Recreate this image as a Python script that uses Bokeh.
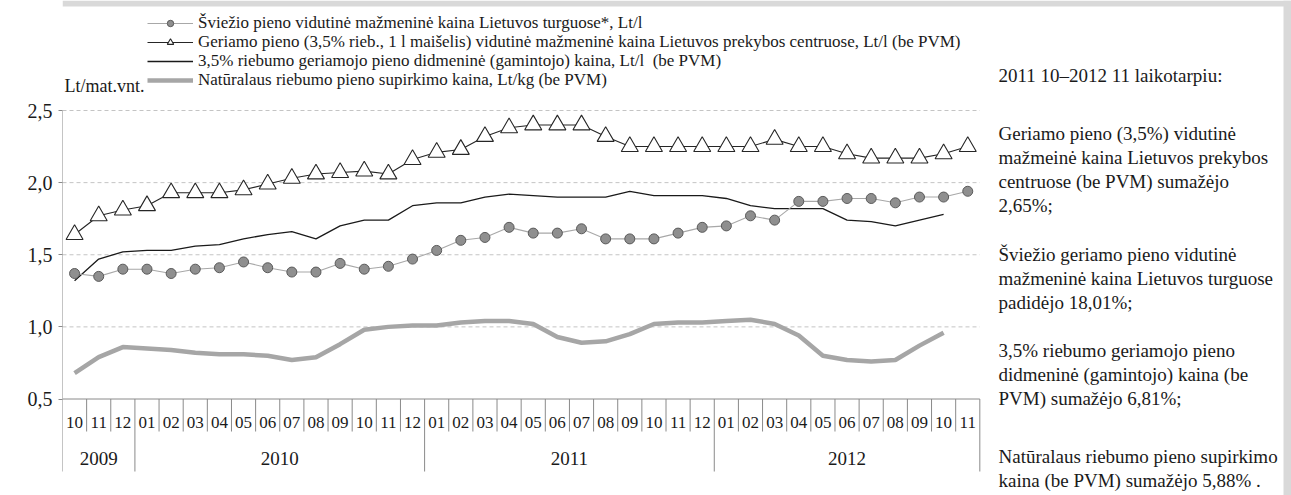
from bokeh.plotting import figure
from bokeh.models import Range1d, ColumnDataSource, Legend, LegendItem, CustomJSTickFormatter, FixedTicker
from bokeh.core.properties import value
from bokeh.embed import file_html
from bokeh.resources import INLINE

NaN = float("nan")

# ---------------- data ----------------
years = ["2009", "2010", "2011", "2012"]
months_per_year = [3, 12, 12, 11]
month_labels = ["10", "11", "12",
                "01", "02", "03", "04", "05", "06", "07", "08", "09", "10", "11", "12",
                "01", "02", "03", "04", "05", "06", "07", "08", "09", "10", "11", "12",
                "01", "02", "03", "04", "05", "06", "07", "08", "09", "10", "11"]

# Šviežio pieno vidutinė mažmeninė kaina Lietuvos turguose
turgus = [1.37, 1.35, 1.40, 1.40, 1.37, 1.40, 1.41, 1.45, 1.41, 1.38, 1.38, 1.44, 1.40,
          1.42, 1.47, 1.53, 1.60, 1.62, 1.69, 1.65, 1.65, 1.68, 1.61, 1.61, 1.61,
          1.65, 1.69, 1.70, 1.77, 1.74, 1.87, 1.87, 1.89, 1.89, 1.86, 1.90, 1.90, 1.94]
# Geriamo pieno vidutinė mažmeninė kaina prekybos centruose
centrai = [1.64, 1.77, 1.81, 1.84, 1.93, 1.93, 1.93, 1.95, 1.99, 2.03, 2.06, 2.07, 2.08,
           2.06, 2.16, 2.21, 2.23, 2.32, 2.38, 2.40, 2.40, 2.40, 2.32, 2.25, 2.25,
           2.25, 2.25, 2.25, 2.25, 2.30, 2.25, 2.25, 2.20, 2.17, 2.17, 2.17, 2.20, 2.25]
# 3,5% riebumo geriamojo pieno didmeninė kaina
didmenine = [1.32, 1.47, 1.52, 1.53, 1.53, 1.56, 1.57, 1.61, 1.64, 1.66, 1.61, 1.70, 1.74,
             1.74, 1.84, 1.86, 1.86, 1.90, 1.92, 1.91, 1.90, 1.90, 1.90, 1.94, 1.91,
             1.91, 1.91, 1.89, 1.84, 1.82, 1.82, 1.82, 1.74, 1.73, 1.70, 1.74, 1.78, NaN]
# Natūralaus riebumo pieno supirkimo kaina
supirkimo = [0.68, 0.79, 0.86, 0.85, 0.84, 0.82, 0.81, 0.81, 0.80, 0.77, 0.79, 0.88, 0.98,
             1.00, 1.01, 1.01, 1.03, 1.04, 1.04, 1.02, 0.93, 0.89, 0.90, 0.95, 1.02,
             1.03, 1.03, 1.04, 1.05, 1.02, 0.94, 0.80, 0.77, 0.76, 0.77, 0.87, 0.96, NaN]

y_ticks = [0.5, 1.0, 1.5, 2.0, 2.5]

legend_labels = [
    "Šviežio pieno vidutinė mažmeninė kaina Lietuvos turguose*, Lt/l",
    "Geriamo pieno (3,5% rieb., 1 l maišelis) vidutinė mažmeninė kaina Lietuvos prekybos centruose, Lt/l (be PVM)",
    "3,5% riebumo geriamojo pieno didmeninė (gamintojo) kaina, Lt/l  (be PVM)",
    "Natūralaus riebumo pieno supirkimo kaina, Lt/kg (be PVM)",
]
unit_label = "Lt/mat.vnt."
note_lines = [
    "2011 10–2012 11 laikotarpiu:",
    "Geriamo pieno (3,5%)  vidutinė",
    "mažmeinė kaina Lietuvos prekybos",
    "centruose (be PVM) sumažėjo",
    "2,65%;",
    "Šviežio geriamo pieno vidutinė",
    "mažmeninė kaina Lietuvos turguose",
    "padidėjo 18,01%;",
    "3,5% riebumo geriamojo pieno",
    "didmeninė (gamintojo) kaina (be",
    "PVM) sumažėjo 6,81%;",
    "Natūralaus riebumo pieno supirkimo",
    "kaina (be PVM) sumažėjo 5,88% .",
]

# ---------------- layout (pixels in the picture) ----------------
W, H = 1291, 495
FRAME_LEFT = 62.0
PX_PER_X = 24.14
PX_Y_TOP_TICK = 110.0
PX_PER_Y = 144.25
FONT = "Liberation Serif"
INK = "#1a1a1a"
AXIS_GRAY = "#8a8a8a"
BORDER_GRAY = "#d9d9d9"


def dx(px):
    return (px - FRAME_LEFT) / PX_PER_X


def dy(py):
    return y_ticks[-1] - (py - PX_Y_TOP_TICK) / PX_PER_Y


note_py = [75, 133, 157, 181, 205, 254, 278, 302, 350, 374, 398, 456, 480]
note_px = 998
month_label_py = 422
year_label_py = 458
month_sep_py = 431
year_sep_py = 471
unit_py = 85
legend_rows_py = [23, 42, 61, 80]
legend_x_px = 147
LEG_FONT = "17px"
LEG_ITEM_H = 19

n = len(month_labels)
xs = [i + 0.5 for i in range(n)]

p = figure(width=W, height=H, output_backend="svg", toolbar_location=None,
           x_range=Range1d(dx(FRAME_LEFT), dx(W)),
           y_range=Range1d(dy(H), dy(0)),
           x_axis_type=None,
           min_border_left=int(FRAME_LEFT), min_border_right=0,
           min_border_top=0, min_border_bottom=0)
p.outline_line_color = None
p.background_fill_color = "white"
p.border_fill_color = "white"
p.ygrid.grid_line_color = None

# light frame of the picture (top and right edges)
p.quad(left=[dx(FRAME_LEFT)], right=[dx(W)], top=[dy(0)], bottom=[dy(6)],
       fill_color=BORDER_GRAY, line_color=None)
p.quad(left=[dx(W - 8)], right=[dx(W)], top=[dy(0)], bottom=[dy(H)],
       fill_color=BORDER_GRAY, line_color=None)

yax = p.yaxis[0]
yax.ticker = FixedTicker(ticks=y_ticks)
yax.formatter = CustomJSTickFormatter(code="return tick.toFixed(1).replace('.', ',');")
yax.axis_line_color = None
yax.major_tick_out = 4
yax.major_tick_in = 0
yax.major_tick_line_color = AXIS_GRAY
yax.minor_tick_line_color = None
yax.major_label_text_font = FONT
yax.major_label_text_font_size = "20px"
yax.major_label_text_color = INK
yax.major_label_standoff = 6

# dashed horizontal grid over the months only
gy = y_ticks[1:]
p.segment(x0=[0] * len(gy), x1=[n] * len(gy), y0=gy, y1=gy,
          line_color="#c4c4c4", line_width=1, line_dash="4 3")

# axis lines
p.segment(x0=[0], x1=[n], y0=[y_ticks[0]], y1=[y_ticks[0]], line_color=AXIS_GRAY, line_width=1)
p.segment(x0=[0], x1=[0], y0=[dy(year_sep_py)], y1=[y_ticks[-1]], line_color=AXIS_GRAY, line_width=1)

# month / year separators
year_bounds = [0]
for c in months_per_year:
    year_bounds.append(year_bounds[-1] + c)
sep_x, sep_y1 = [], []
for b in range(1, n + 1):
    sep_x.append(b)
    sep_y1.append(dy(year_sep_py) if b in year_bounds else dy(month_sep_py))
p.segment(x0=sep_x, x1=sep_x, y0=[y_ticks[0]] * len(sep_x), y1=sep_y1,
          line_color=AXIS_GRAY, line_width=1)

# month labels
p.text(x=xs, y=[dy(month_label_py)] * n, text=month_labels,
       text_align="center", text_baseline="middle",
       text_font=value(FONT), text_font_size="17px", text_color=INK)
# year labels
yc = [(year_bounds[i] + year_bounds[i + 1]) / 2 for i in range(len(years))]
p.text(x=yc, y=[dy(year_label_py)] * len(years), text=years,
       text_align="center", text_baseline="middle",
       text_font=value(FONT), text_font_size="19px", text_color=INK)

# series
src = ColumnDataSource(dict(x=xs, turgus=turgus, centrai=centrai,
                            didmenine=didmenine, supirkimo=supirkimo))
r_sup = p.line("x", "supirkimo", source=src, line_color="#a6a6a6", line_width=4.5)
r_did = p.line("x", "didmenine", source=src, line_color=INK, line_width=1.3)
r_cen_l = p.line("x", "centrai", source=src, line_color="#262626", line_width=1.1)
r_tur_l = p.line("x", "turgus", source=src, line_color="#a8a8a8", line_width=1.1)
r_cen_s = p.scatter("x", "centrai", source=src, marker="triangle", size=17,
                    fill_color="white", line_color="#262626", line_width=1.1)
r_tur_s = p.scatter("x", "turgus", source=src, marker="circle", size=10,
                    fill_color="#8f8f8f", line_color="#5a5a5a", line_width=1)

# legend: one entry per row, so rows sit as tightly as in the original
legend_renderers = [[r_tur_l, r_tur_s], [r_cen_l, r_cen_s], [r_did], [r_sup]]
for label, rends, row_py in zip(legend_labels, legend_renderers, legend_rows_py):
    lg = Legend(items=[LegendItem(label=label, renderers=rends)],
                location=(legend_x_px - FRAME_LEFT, H - (row_py + LEG_ITEM_H / 2)))
    lg.label_text_font = FONT
    lg.label_text_font_size = LEG_FONT
    lg.label_text_color = INK
    lg.glyph_width = 46
    lg.glyph_height = 16
    lg.label_height = 16
    lg.label_standoff = 5
    lg.spacing = 0
    lg.padding = 0
    lg.margin = 0
    lg.border_line_color = None
    lg.background_fill_alpha = 0
    p.add_layout(lg)

# unit label (kept inside the frame so it is not clipped)
p.text(x=[dx(FRAME_LEFT + 2)], y=[dy(unit_py)], text=[unit_label],
       text_align="left", text_baseline="middle",
       text_font=value(FONT), text_font_size="18px", text_color=INK)

# note panel on the right
p.text(x=[dx(note_px)] * len(note_lines), y=[dy(v) for v in note_py], text=note_lines,
       text_align="left", text_baseline="middle",
       text_font=value(FONT), text_font_size="19px", text_color=INK)

open("out.html", "w").write(file_html(p, INLINE))
